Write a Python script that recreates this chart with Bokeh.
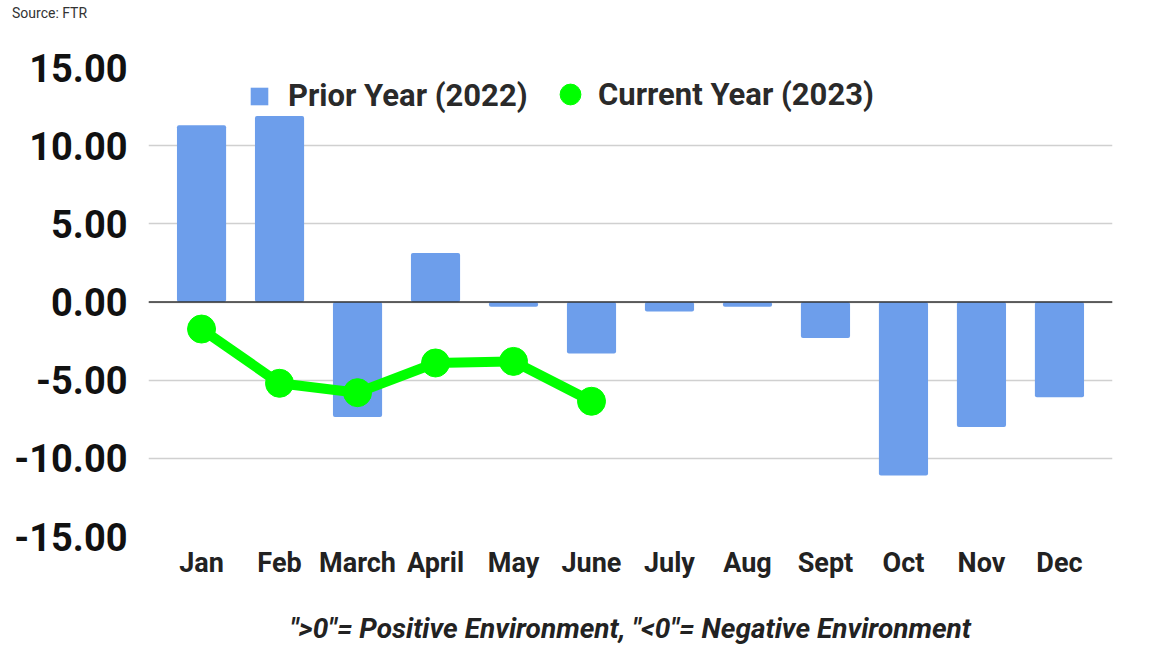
from bokeh.plotting import figure
from bokeh.layouts import column
from bokeh.models import (FactorRange, FixedTicker, NumeralTickFormatter, Span,
                          Legend, LegendItem, Div)
from bokeh.embed import file_html
from bokeh.resources import INLINE

months = ["Jan", "Feb", "March", "April", "May", "June", "July", "Aug",
          "Sept", "Oct", "Nov", "Dec"]
prior_2022 = [11.3, 11.9, -7.35, 3.13, -0.3, -3.3, -0.6, -0.3, -2.3, -11.1, -8.0, -6.1]
current_months = ["Jan", "Feb", "March", "April", "May", "June"]
current_2023 = [-1.73, -5.2, -5.8, -3.9, -3.8, -6.35]
y_ticks = [-15, -10, -5, 0, 5, 10, 15]

FONT = "Roboto"
DIV_H = 22

p = figure(width=1152, height=648 - DIV_H, output_backend="svg", toolbar_location=None,
           x_range=FactorRange(factors=months, range_padding=0.03),
           y_range=(-15, 15),
           min_border_left=148, min_border_right=40,
           min_border_top=67 - DIV_H, min_border_bottom=112)
p.outline_line_color = None
p.background_fill_color = "white"

bars = p.vbar(x=months, top=prior_2022, width=0.63, fill_color="#6d9eeb",
              line_color=None, border_radius=2)
p.add_layout(Span(location=0, dimension="width", line_color="#333333", line_width=1.5))
p.line(x=current_months, y=current_2023, line_color="#00ff00", line_width=10)
pts = p.scatter(x=current_months, y=current_2023, size=28, fill_color="#00ff00",
                line_color="#00ff00")

p.xgrid.grid_line_color = None
p.ygrid.grid_line_color = "#d0d0d0"
p.ygrid.grid_line_width = 1.5
p.ygrid.ticker = FixedTicker(ticks=y_ticks)

p.yaxis.ticker = FixedTicker(ticks=y_ticks)
p.yaxis.formatter = NumeralTickFormatter(format="0.00")
p.yaxis.axis_line_color = None
p.yaxis.major_tick_line_color = None
p.yaxis.minor_tick_line_color = None
p.yaxis.major_label_standoff = 15
p.yaxis.major_label_text_font = FONT
p.yaxis.major_label_text_font_style = "bold"
p.yaxis.major_label_text_font_size = "38px"
p.yaxis.major_label_text_color = "#111111"

p.xaxis.axis_line_color = None
p.xaxis.major_tick_line_color = None
p.xaxis.major_label_standoff = 4
p.xaxis.major_label_text_font = FONT
p.xaxis.major_label_text_font_style = "bold"
p.xaxis.major_label_text_font_size = "27px"
p.xaxis.major_label_text_color = "#222222"
p.xaxis.axis_label = '">0"= Positive Environment, "<0"= Negative Environment'
p.xaxis.axis_label_standoff = 30
p.xaxis.axis_label_text_font = FONT
p.xaxis.axis_label_text_font_size = "28px"
p.xaxis.axis_label_text_font_style = "bold italic"
p.xaxis.axis_label_text_color = "#222222"

common = dict(orientation="horizontal", padding=0, margin=0, spacing=0,
              border_line_color=None, background_fill_alpha=0,
              label_text_font=FONT, label_text_font_style="bold",
              label_text_font_size="31px", label_text_color="#2a2a2a")
leg1 = Legend(items=[LegendItem(label="Prior Year (2022)", renderers=[bars])],
              location=(100, 422), glyph_width=22, glyph_height=22,
              label_standoff=18, **common)
leg2 = Legend(items=[LegendItem(label="Current Year (2023)", renderers=[pts])],
              location=(396, 416), glyph_width=52, glyph_height=52,
              label_standoff=2, **common)
p.add_layout(leg1, "center")
p.add_layout(leg2, "center")

src = Div(text="Source: FTR", width=300, height=DIV_H, margin=(0, 0, 0, 12),
          styles={"font-family": "Roboto", "font-size": "14px", "color": "#333333",
                  "padding-top": "5px", "line-height": "16px"})

layout = column(src, p, spacing=0)
open("out.html", "w").write(file_html(layout, INLINE))
